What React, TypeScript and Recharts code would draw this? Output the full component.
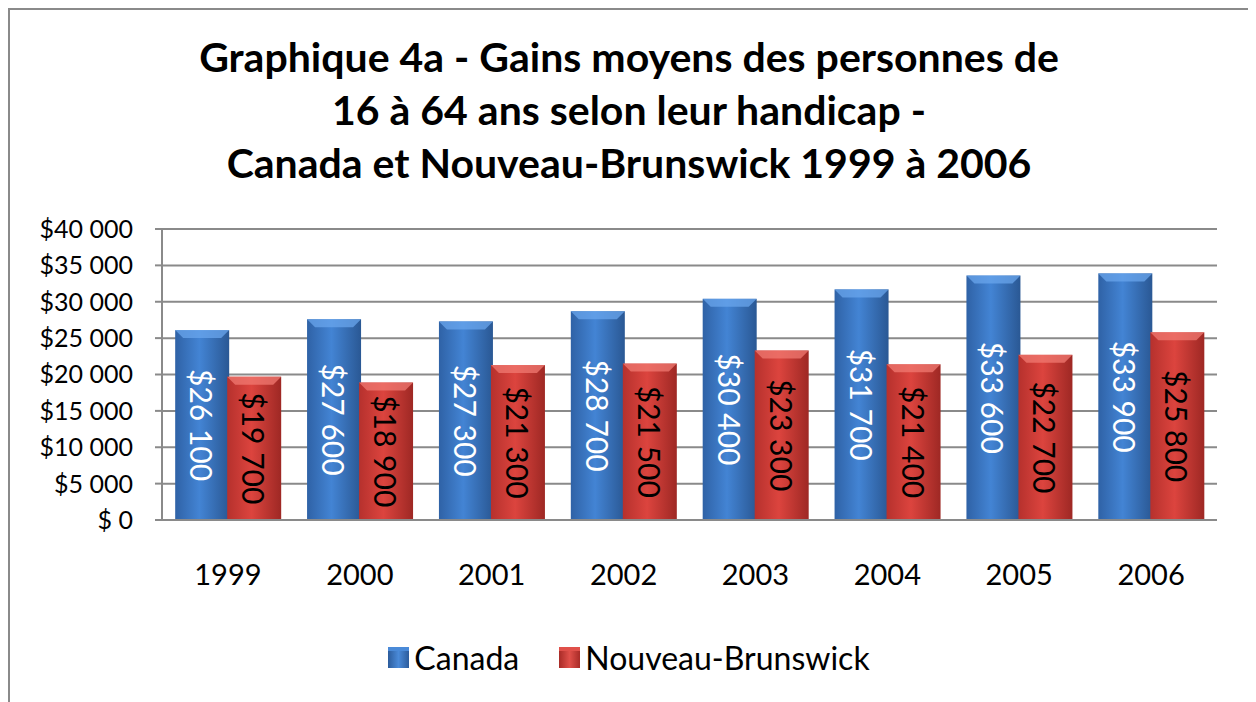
import React from 'react';
import { BarChart, Bar, XAxis, YAxis, CartesianGrid, LabelList, Legend } from 'recharts';

const years = ['1999', '2000', '2001', '2002', '2003', '2004', '2005', '2006'];
const canada = [26100, 27600, 27300, 28700, 30400, 31700, 33600, 33900];
const nouveauBrunswick = [19700, 18900, 21300, 21500, 23300, 21400, 22700, 25800];
const yTicks = [0, 5000, 10000, 15000, 20000, 25000, 30000, 35000, 40000];
const titleLines = [
  'Graphique 4a - Gains moyens des personnes de',
  '16 à 64 ans selon leur handicap -',
  'Canada et Nouveau-Brunswick 1999 à 2006',
];

const FONT = 'Lato, "Open Sans", sans-serif';
const GRID = '#8a8a8a';

const rows = years.map((year, i) => ({ year, canada: canada[i], nb: nouveauBrunswick[i] }));

function money(v: number) {
  if (v === 0) return '$ 0';
  const th = Math.floor(v / 1000);
  const rest = String(v % 1000).padStart(3, '0');
  return `$${th} ${rest}`;
}

function BevelBar(props: any) {
  const { x, y, width, height, gradient, top } = props;
  if (!height || height <= 0) return null;
  const b = Math.min(8, height / 2);
  return (
    <g>
      <rect x={x} y={y} width={width} height={height} fill={`url(#${gradient})`} />
      <polygon
        points={`${x},${y} ${x + width},${y} ${x + width - b},${y + b} ${x + b},${y + b}`}
        fill={top}
        opacity={0.75}
      />
    </g>
  );
}

function rotatedLabel(color: string) {
  return (props: any) => {
    const { x, y, width, height, value } = props;
    const cx = x + width / 2;
    const cy = y + height / 2;
    return (
      <text
        x={cx}
        y={cy}
        transform={`rotate(90, ${cx}, ${cy})`}
        textAnchor="middle"
        dominantBaseline="central"
        fill={color}
        fontFamily={FONT}
        fontSize={30}
      >
        {money(value)}
      </text>
    );
  };
}

function LegendBox({ g1, g2, g3 }: { g1: string; g2: string; g3: string }) {
  return (
    <span
      style={{
        display: 'inline-block',
        width: 21,
        height: 21,
        background: `linear-gradient(90deg, ${g1}, ${g2} 50%, ${g3})`,
        borderTop: `4px solid ${g2}`,
        boxSizing: 'border-box',
        marginRight: 5,
      }}
    />
  );
}

function renderLegend() {
  return (
    <div style={{ display: 'flex', justifyContent: 'center', alignItems: 'center', fontFamily: FONT, fontSize: 32, color: '#000' }}>
      <span style={{ display: 'flex', alignItems: 'center', marginRight: 40 }}>
        <LegendBox g1="#2c5c9c" g2="#4a8ad8" g3="#2c5c9c" />
        Canada
      </span>
      <span style={{ display: 'flex', alignItems: 'center' }}>
        <LegendBox g1="#a82b27" g2="#e0504a" g3="#a82b27" />
        Nouveau-Brunswick
      </span>
    </div>
  );
}

export default function App() {
  return (
    <div
      style={{
        position: 'relative',
        width: 1238,
        height: 700,
        border: `2px solid ${GRID}`,
        background: '#fff',
      }}
    >
      <div
        style={{
          position: 'absolute',
          top: 20,
          left: 0,
          width: 1238,
          textAlign: 'center',
          fontFamily: FONT,
          fontWeight: 700,
          fontSize: 41,
          lineHeight: '53px',
          color: '#000',
        }}
      >
        {titleLines.map((l) => (
          <div key={l}>{l}</div>
        ))}
      </div>
      <BarChart
        width={1238}
        height={690}
        data={rows}
        margin={{ top: 219, right: 31, bottom: 0, left: 0 }}
        barCategoryGap="10%"
        barGap={-2}
      >
        <defs>
          <linearGradient id="gBlue" x1="0" y1="0" x2="1" y2="0">
            <stop offset="0%" stopColor="#2f62a6" />
            <stop offset="45%" stopColor="#4384d4" />
            <stop offset="100%" stopColor="#2a5894" />
          </linearGradient>
          <linearGradient id="gRed" x1="0" y1="0" x2="1" y2="0">
            <stop offset="0%" stopColor="#b6312d" />
            <stop offset="45%" stopColor="#dc443e" />
            <stop offset="100%" stopColor="#9e2824" />
          </linearGradient>
        </defs>
        <CartesianGrid vertical={false} stroke={GRID} strokeWidth={2} />
        <XAxis
          dataKey="year"
          height={180}
          axisLine={{ stroke: GRID, strokeWidth: 2 }}
          tickLine={false}
          tick={{ fill: '#000', fontSize: 29, fontFamily: FONT, dy: 36 } as any}
        />
        <YAxis
          width={152}
          domain={[0, 40000]}
          ticks={yTicks}
          interval={0}
          tickFormatter={money}
          axisLine={{ stroke: GRID, strokeWidth: 2 }}
          tickLine={{ stroke: GRID, strokeWidth: 2 }}
          tickSize={7}
          tick={{ fill: '#000', fontSize: 25, fontFamily: FONT, dx: -20 } as any}
        />
        <Legend
          layout="horizontal"
          verticalAlign="middle"
          align="center"
          content={renderLegend}
          wrapperStyle={{ top: 628, left: 0, width: 1238 }}
        />
        <Bar
          dataKey="canada"
          name="Canada"
          isAnimationActive={false}
          shape={(p: any) => <BevelBar {...p} gradient="gBlue" top="#6aa6ec" />}
        >
          <LabelList dataKey="canada" content={rotatedLabel('#fff')} />
        </Bar>
        <Bar
          dataKey="nb"
          name="Nouveau-Brunswick"
          isAnimationActive={false}
          shape={(p: any) => <BevelBar {...p} gradient="gRed" top="#f07a72" />}
        >
          <LabelList dataKey="nb" content={rotatedLabel('#000')} />
        </Bar>
      </BarChart>
    </div>
  );
}
